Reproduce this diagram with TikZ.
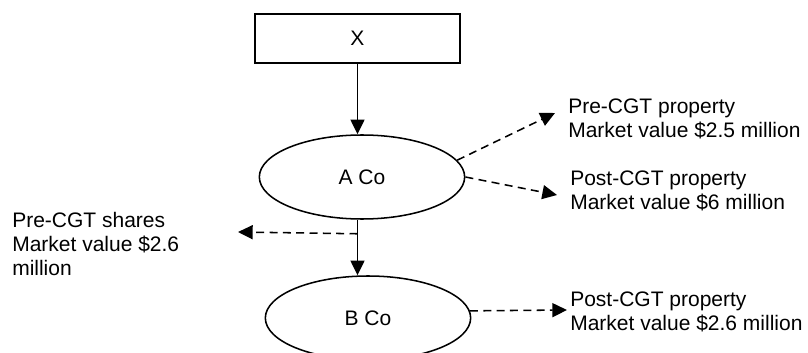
\documentclass[tikz,border=0pt]{standalone}
\usepackage{fontspec}
\setmainfont{Liberation Sans}
\usepackage{tikz}
\usetikzlibrary{shapes.geometric}
\usetikzlibrary{arrows.meta}
\usetikzlibrary{calc}

\begin{document}
\begin{tikzpicture}[x=0.75pt,y=-0.75pt,
   every node/.style={font=\fontsize{15.75}{18}\selectfont},
   box/.style={draw,line width=1.15pt,minimum width=153.75pt,minimum height=36.75pt},
   company/.style={draw,ellipse,line width=1.15pt,minimum width=154pt,minimum height=63pt},
   holding/.style={anchor=west,align=left,inner sep=0pt},
   own/.style={line width=1.15pt,-{Triangle[length=11pt,width=10.5pt]}},
   value/.style={own,dash pattern=on 6pt off 4pt}]
   \useasboundingbox (0,0) rectangle (808,353);
   % structure
   \node[box] (x) at (357.5,38.5) {X};
   \node[company] (aco) at (362,177) {A Co};
   \node[company] (bco) at (368,318) {B Co};
   \draw[own] (x.south) -- (x.south |- aco.north);
   \draw[own] (aco.south -| x.south) -- (bco.north -| x.south);
   % assets
   \node[holding] (preshares) at (12,244) {Pre-CGT shares\\Market value \$2.6\\million};
   \node[holding] (preprop) at (568,119) {Pre-CGT property\\Market value \$2.5 million};
   \node[holding] (postpropa) at (570,191) {Post-CGT property\\Market value \$6 million};
   \node[holding] (postpropb) at (570,312) {Post-CGT property\\Market value \$2.6 million};
   \coordinate (split) at ($(aco.south -| x.south)+(0,14)$);
   \coordinate (preshares tip) at (238,232);
   \coordinate (preprop tip) at (555,113);
   \coordinate (postpropa tip) at (557,195);
   \coordinate (postpropb tip) at (567,310);
   \draw[value] (split) -- (preshares tip);
   \draw[value] (aco.10) -- (preprop tip);
   \draw[value] (aco.east) -- (postpropa tip);
   \draw[value] (bco.4) -- (postpropb tip);
\end{tikzpicture}
\end{document}
